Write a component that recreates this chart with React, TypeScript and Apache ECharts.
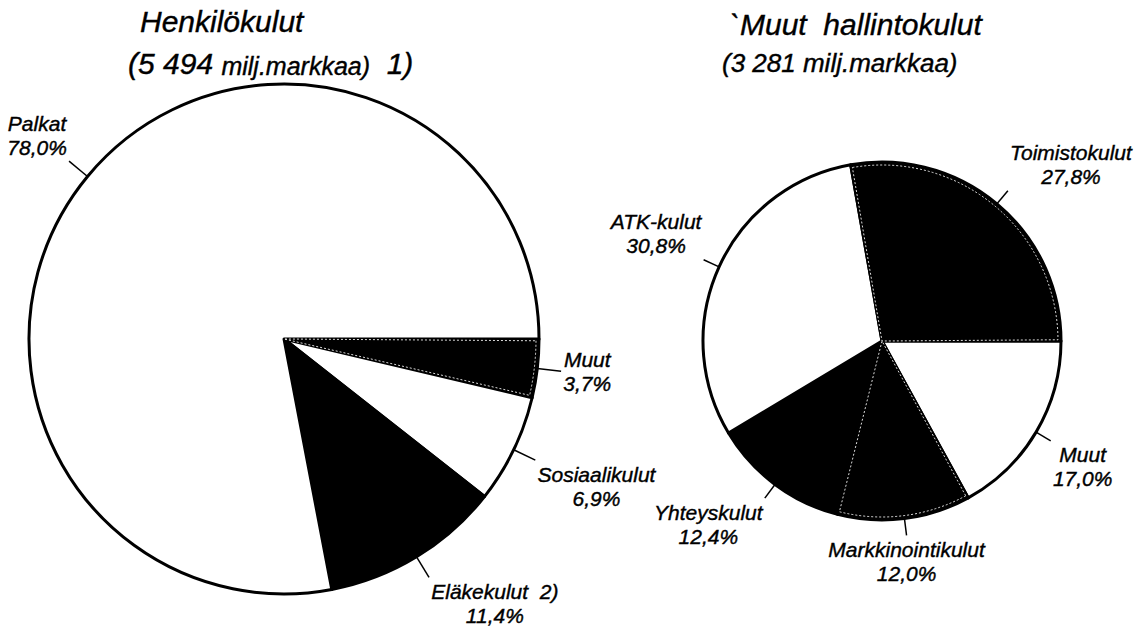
import React, { useEffect, useRef } from "react";
import * as echarts from "echarts";

// ---- Data ----
const leftNames = ["Muut", "Sosiaalikulut", "Eläkekulut  2)", "Palkat"];
const leftValues = [3.7, 6.9, 11.4, 78.0];
const leftFills = ["#000000", "#ffffff", "#000000", "#ffffff"];
const leftDotted = [true, false, false, false];

const rightNames = ["Muut", "Markkinointikulut", "Yhteyskulut", "ATK-kulut", "Toimistokulut"];
const rightValues = [17.0, 12.0, 12.4, 30.8, 27.8];
const rightFills = ["#ffffff", "#000000", "#000000", "#ffffff", "#000000"];
const rightDotted = [false, true, false, false, true];

const leftTitle = "Henkilökulut";
const leftTotal = "5 494";
const leftNote = "1)";
const rightTitle = "`Muut  hallintokulut";
const rightTotal = "3 281";
const unit = "milj.markkaa";

const FONT = "'Liberation Sans', Arial, Helvetica, sans-serif";

const fmt = (v: number) => v.toFixed(1).replace(".", ",") + "%";

const makeLayout = (tick: number) => (params: any) => {
  const pts = params.labelLinePoints;
  if (!pts || pts.length < 2) return {};
  const p0 = pts[0];
  const p1 = pts[1];
  const dx = p1[0] - p0[0];
  const dy = p1[1] - p0[1];
  const len = Math.hypot(dx, dy) || 1;
  const ux = dx / len;
  const uy = dy / len;
  const end = [p0[0] + ux * tick, p0[1] + uy * tick];
  const w = params.labelRect.width;
  const h = params.labelRect.height;
  const gap = 2;
  const sx = ux > 0.3 ? 1 : ux < -0.3 ? -1 : 0;
  const sy = uy > 0.3 ? 1 : uy < -0.3 ? -1 : 0;
  return {
    x: end[0] + sx * (w / 2 + gap),
    y: end[1] + sy * (h / 2 + gap),
    align: "center",
    verticalAlign: "middle",
    labelLinePoints: [p0, end],
  };
};

const pieSeries = (
  names: string[],
  values: number[],
  fills: string[],
  center: [number, number],
  radius: number,
  tick: number
) => ({
  type: "pie",
  center,
  radius,
  startAngle: 0,
  clockwise: true,
  avoidLabelOverlap: false,
  silent: true,
  data: names.map((n, i) => ({
    name: n,
    value: values[i],
    itemStyle: { color: fills[i] },
  })),
  itemStyle: { borderColor: "#000", borderWidth: 3 },
  label: {
    show: true,
    position: "outside",
    formatter: (p: any) => `${p.name}\n${fmt(p.value)}`,
    fontFamily: FONT,
    fontStyle: "italic",
    fontSize: 21,
    lineHeight: 24,
    color: "#000",
    textBorderColor: "#000",
    textBorderWidth: 0.4,
  },
  labelLine: {
    show: true,
    length: tick,
    length2: 0,
    lineStyle: { color: "#000", width: 1.5 },
  },
  labelLayout: makeLayout(tick),
});

// thin dotted white outline inside some dark slices
const outlineSeries = (
  names: string[],
  values: number[],
  dotted: boolean[],
  center: [number, number],
  radius: number
) => ({
  type: "pie",
  center,
  radius: radius - 3,
  startAngle: 0,
  clockwise: true,
  silent: true,
  z: 3,
  padAngle: 0.8,
  label: { show: false },
  labelLine: { show: false },
  data: names.map((n, i) => ({
    name: n,
    value: values[i],
    itemStyle: {
      color: "rgba(0,0,0,0)",
      borderColor: dotted[i] ? "rgba(255,255,255,0.85)" : "rgba(0,0,0,0)",
      borderWidth: dotted[i] ? 1 : 0,
      borderType: [2, 2],
    },
  })),
});

const titleStyle = (size: number) => ({
  fontFamily: FONT,
  fontStyle: "italic",
  fontWeight: "normal",
  fontSize: size,
  color: "#000",
  textBorderColor: "#000",
  textBorderWidth: 0.4,
});

export default function App() {
  const ref = useRef<HTMLDivElement>(null);
  useEffect(() => {
    document.body.style.margin = "0";
    if (!ref.current) return;
    const chart = echarts.init(ref.current, null, { renderer: "svg" });
    chart.setOption({
      animation: false,
      backgroundColor: "#ffffff",
      title: [
        { text: leftTitle, left: 140, top: 6, padding: 0, textStyle: titleStyle(30) },
        {
          text: `{a|(${leftTotal}} {b|${unit})}  {a|${leftNote}}`,
          left: 128,
          top: 48,
          padding: 0,
          textStyle: {
            ...titleStyle(30),
            rich: {
              a: { ...titleStyle(30), verticalAlign: "bottom" },
              b: { ...titleStyle(25), verticalAlign: "bottom" },
            },
          },
        },
        { text: rightTitle, left: 730, top: 9, padding: 0, textStyle: titleStyle(30) },
        { text: `(${rightTotal} ${unit})`, left: 722, top: 50, padding: 0, textStyle: titleStyle(26) },
      ],
      series: [
        pieSeries(leftNames, leftValues, leftFills, [284, 339], 255, 24),
        pieSeries(rightNames, rightValues, rightFills, [882, 341], 179, 17),
        outlineSeries(leftNames, leftValues, leftDotted, [284, 339], 255),
        outlineSeries(rightNames, rightValues, rightDotted, [882, 341], 179),
      ],
    });
    return () => chart.dispose();
  }, []);
  return <div ref={ref} style={{ width: 1146, height: 627 }} />;
}
